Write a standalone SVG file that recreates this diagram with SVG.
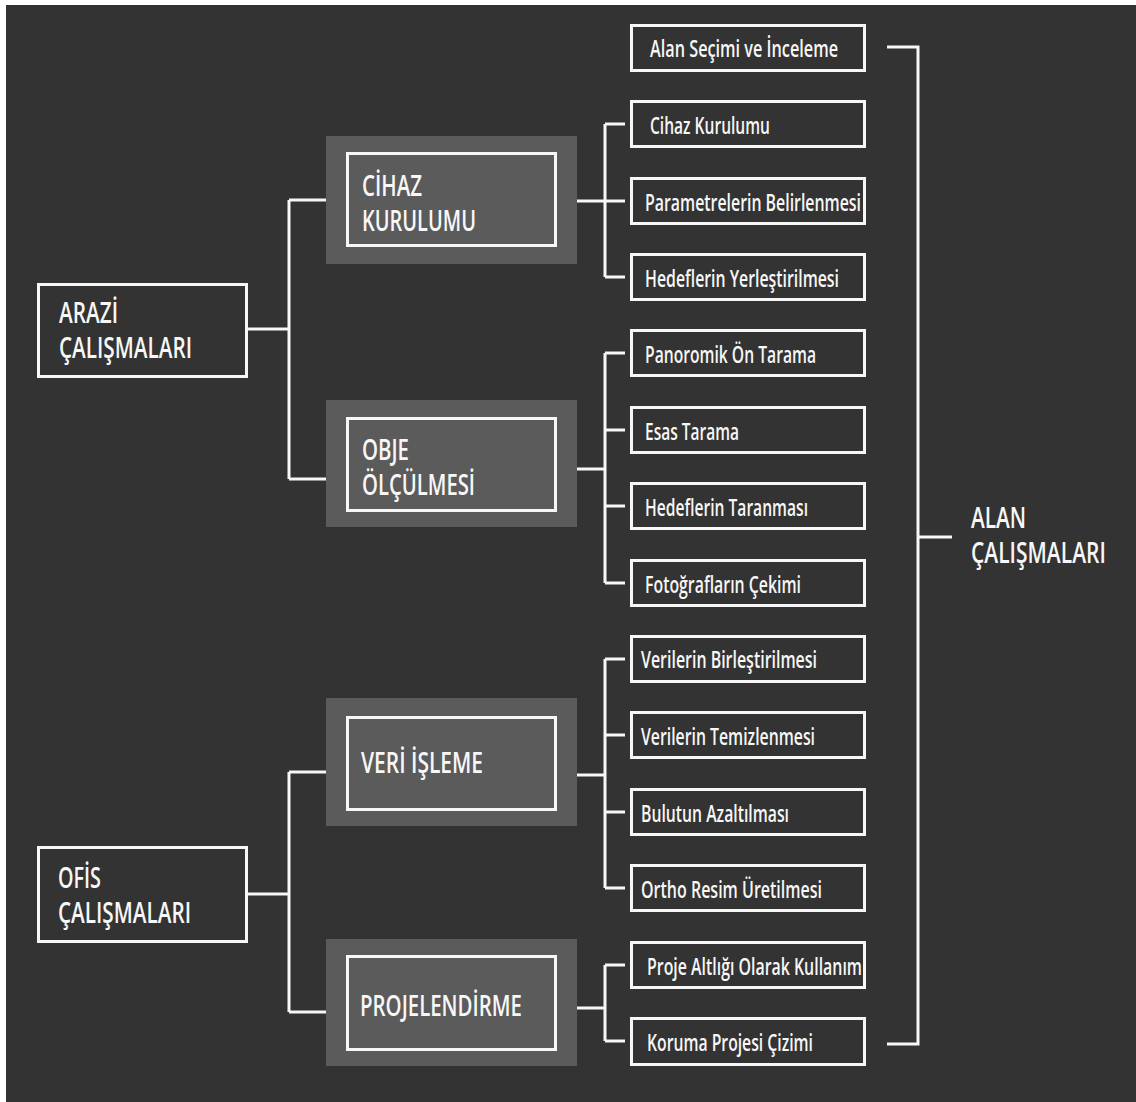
<svg xmlns="http://www.w3.org/2000/svg" width="1136" height="1102" viewBox="0 0 1136 1102">
<style>
.bg{fill:#333333}
.grp{fill:#5b5b5b}
.box{fill:none;stroke:#f7f7f7;stroke-width:3}
.con{fill:none;stroke:#f7f7f7;stroke-width:3}
text{fill:#f7f7f7;font-family:"Open Sans","Noto Sans","Liberation Sans",sans-serif;font-weight:600}
.big{font-size:28px}
.sm{font-size:23px}
</style>
<rect x="0" y="0" width="1136" height="1102" fill="#ffffff"/>
<rect class="bg" x="6" y="5" width="1130" height="1097"/>

<g id="connectors">
  <path class="con" d="M248 329H289M289 200V479M289 200H326M289 479H326"/>
  <path class="con" d="M248 894H289M289 772V1012M289 772H326M289 1012H326"/>
  <path class="con" d="M577 201H625M605 124V277M605 124H625M605 277H625"/>
  <path class="con" d="M577 469H605M605 353V583M605 353H625M605 430H625M605 506H625M605 583H625"/>
  <path class="con" d="M577 775H605M605 659V888M605 659H625M605 735H625M605 812H625M605 888H625"/>
  <path class="con" d="M577 1008H605M605 965V1041M605 965H625M605 1041H625"/>
  <path class="con" d="M887 47H918V1044H887M918 537H952"/>
</g>

<g id="arazi">
  <rect class="box" x="38.5" y="284.5" width="208" height="92"/>
  <text class="big" x="59" y="323" textLength="59" lengthAdjust="spacingAndGlyphs">ARAZİ</text>
  <text class="big" x="59" y="358" textLength="133" lengthAdjust="spacingAndGlyphs">ÇALIŞMALARI</text>
</g>
<g id="ofis">
  <rect class="box" x="38.5" y="847.5" width="208" height="94"/>
  <text class="big" x="58" y="888" textLength="43" lengthAdjust="spacingAndGlyphs">OFİS</text>
  <text class="big" x="58" y="923" textLength="133" lengthAdjust="spacingAndGlyphs">ÇALIŞMALARI</text>
</g>

<g id="cihaz">
  <rect class="grp" x="326" y="136" width="251" height="128"/>
  <rect class="box" x="347.5" y="153.5" width="208" height="92"/>
  <text class="big" x="362" y="196" textLength="60" lengthAdjust="spacingAndGlyphs">CİHAZ</text>
  <text class="big" x="362" y="231" textLength="114" lengthAdjust="spacingAndGlyphs">KURULUMU</text>
</g>
<g id="obje">
  <rect class="grp" x="326" y="400" width="251" height="127"/>
  <rect class="box" x="347.5" y="418.5" width="208" height="92"/>
  <text class="big" x="362" y="460" textLength="47" lengthAdjust="spacingAndGlyphs">OBJE</text>
  <text class="big" x="362" y="495" textLength="113" lengthAdjust="spacingAndGlyphs">ÖLÇÜLMESİ</text>
</g>
<g id="veri">
  <rect class="grp" x="326" y="698" width="251" height="128"/>
  <rect class="box" x="347.5" y="717.5" width="208" height="92"/>
  <text class="big" x="361" y="773" textLength="122" lengthAdjust="spacingAndGlyphs">VERİ İŞLEME</text>
</g>
<g id="proj">
  <rect class="grp" x="326" y="939" width="251" height="127"/>
  <rect class="box" x="347.5" y="956.5" width="208" height="93"/>
  <text class="big" x="360" y="1016" textLength="162" lengthAdjust="spacingAndGlyphs">PROJELENDİRME</text>
</g>

<g id="n1"><rect class="box" x="631.5" y="25.5" width="233" height="45"/><text class="sm" x="650" y="57" textLength="188" lengthAdjust="spacingAndGlyphs">Alan Seçimi ve İnceleme</text></g>
<g id="n2"><rect class="box" x="631.5" y="101.5" width="233" height="45"/><text class="sm" x="650" y="134" textLength="120" lengthAdjust="spacingAndGlyphs">Cihaz Kurulumu</text></g>
<g id="n3"><rect class="box" x="631.5" y="178.5" width="233" height="45"/><text class="sm" x="645" y="211" textLength="216" lengthAdjust="spacingAndGlyphs">Parametrelerin Belirlenmesi</text></g>
<g id="n4"><rect class="box" x="631.5" y="254.5" width="233" height="45"/><text class="sm" x="645" y="287" textLength="194" lengthAdjust="spacingAndGlyphs">Hedeflerin Yerleştirilmesi</text></g>
<g id="n5"><rect class="box" x="631.5" y="330.5" width="233" height="45"/><text class="sm" x="645" y="363" textLength="171" lengthAdjust="spacingAndGlyphs">Panoromik Ön Tarama</text></g>
<g id="n6"><rect class="box" x="631.5" y="407.5" width="233" height="45"/><text class="sm" x="645" y="440" textLength="94" lengthAdjust="spacingAndGlyphs">Esas Tarama</text></g>
<g id="n7"><rect class="box" x="631.5" y="483.5" width="233" height="45"/><text class="sm" x="645" y="516" textLength="163" lengthAdjust="spacingAndGlyphs">Hedeflerin Taranması</text></g>
<g id="n8"><rect class="box" x="631.5" y="560.5" width="233" height="45"/><text class="sm" x="645" y="593" textLength="156" lengthAdjust="spacingAndGlyphs">Fotoğrafların Çekimi</text></g>
<g id="n9"><rect class="box" x="631.5" y="636.5" width="233" height="45"/><text class="sm" x="641" y="668" textLength="176" lengthAdjust="spacingAndGlyphs">Verilerin Birleştirilmesi</text></g>
<g id="n10"><rect class="box" x="631.5" y="712.5" width="233" height="45"/><text class="sm" x="641" y="745" textLength="174" lengthAdjust="spacingAndGlyphs">Verilerin Temizlenmesi</text></g>
<g id="n11"><rect class="box" x="631.5" y="789.5" width="233" height="45"/><text class="sm" x="641" y="822" textLength="148" lengthAdjust="spacingAndGlyphs">Bulutun Azaltılması</text></g>
<g id="n12"><rect class="box" x="631.5" y="865.5" width="233" height="45"/><text class="sm" x="641" y="898" textLength="181" lengthAdjust="spacingAndGlyphs">Ortho Resim Üretilmesi</text></g>
<g id="n13"><rect class="box" x="631.5" y="942.5" width="233" height="45"/><text class="sm" x="647" y="975" textLength="215" lengthAdjust="spacingAndGlyphs">Proje Altlığı Olarak Kullanım</text></g>
<g id="n14"><rect class="box" x="631.5" y="1018.5" width="233" height="46"/><text class="sm" x="647" y="1051" textLength="166" lengthAdjust="spacingAndGlyphs">Koruma Projesi Çizimi</text></g>

<g id="alan">
  <text class="big" transform="translate(971 528) scale(0.745 1)" x="0" y="0" textLength="74" lengthAdjust="spacingAndGlyphs">ALAN</text>
  <text class="big" transform="translate(971 563) scale(0.745 1)" x="0" y="0" textLength="181" lengthAdjust="spacingAndGlyphs">ÇALIŞMALARI</text>
</g>
</svg>
